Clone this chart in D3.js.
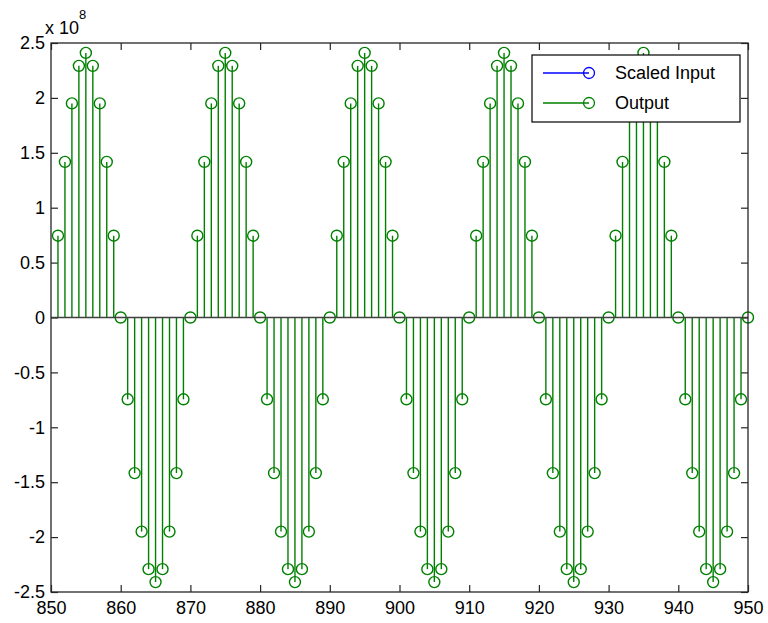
<!DOCTYPE html>
<html><head><meta charset="utf-8">
<script src="https://cdn.jsdelivr.net/npm/d3@7"></script>
<style>
body{margin:0;background:#fff;}
svg text{font-family:"Liberation Sans",Arial,sans-serif;}
</style></head>
<body><svg id="c" width="768" height="623"></svg>
<script>
// sample indices
const samples = d3.range(851, 951);
// Output values (x 1e8)
const outputValues = [
 0.745,1.417,1.950,2.292,2.410,2.292,1.950,1.417,0.745,0,
 -0.745,-1.417,-1.950,-2.292,-2.410,-2.292,-1.950,-1.417,-0.745,0,
 0.745,1.417,1.950,2.292,2.410,2.292,1.950,1.417,0.745,0,
 -0.745,-1.417,-1.950,-2.292,-2.410,-2.292,-1.950,-1.417,-0.745,0,
 0.745,1.417,1.950,2.292,2.410,2.292,1.950,1.417,0.745,0,
 -0.745,-1.417,-1.950,-2.292,-2.410,-2.292,-1.950,-1.417,-0.745,0,
 0.745,1.417,1.950,2.292,2.410,2.292,1.950,1.417,0.745,0,
 -0.745,-1.417,-1.950,-2.292,-2.410,-2.292,-1.950,-1.417,-0.745,0,
 0.745,1.417,1.950,2.292,2.410,2.292,1.950,1.417,0.745,0,
 -0.745,-1.417,-1.950,-2.292,-2.410,-2.292,-1.950,-1.417,-0.745,0
];
const xTicks = [850,860,870,880,890,900,910,920,930,940,950];
const yTicks = [2.5,2,1.5,1,0.5,0,-0.5,-1,-1.5,-2,-2.5];
const yTickLabels = ["2.5","2","1.5","1","0.5","0","-0.5","-1","-1.5","-2","-2.5"];
const seriesNames = ["Scaled Input","Output"];
const seriesColors = ["#0000ff","#008000"];

const L=51, T=43, W=697, H=549;
const svg = d3.select("#c");
const g = svg.append("g").attr("transform",`translate(${L},${T})`);
const x = d3.scaleLinear().domain([850,950]).range([0,W]);
const y = d3.scaleLinear().domain([-2.5,2.5]).range([H,0]);

const axColor="#262626";
function styleAxis(sel){
  sel.select(".domain").remove();
  sel.selectAll("line").attr("stroke",axColor).attr("stroke-width",1.2);
  sel.selectAll("text").attr("fill","#000").style("font-size","18px");
}
g.append("g").attr("transform",`translate(0,${H})`)
 .call(d3.axisBottom(x).tickValues(xTicks).tickSize(-7).tickPadding(9).tickFormat(d3.format("d")))
 .call(styleAxis);
g.append("g").call(d3.axisTop(x).tickValues(xTicks).tickSize(-7).tickFormat("")).call(styleAxis);
g.append("g")
 .call(d3.axisLeft(y).tickValues(yTicks).tickSize(-7).tickPadding(6).tickFormat((d,i)=>yTickLabels[i]))
 .call(styleAxis);
g.append("g").attr("transform",`translate(${W},0)`)
 .call(d3.axisRight(y).tickValues(yTicks).tickSize(-7).tickFormat("")).call(styleAxis);

// Output stems (the scaled input lies exactly beneath them and is not visible)
const s = g.append("g");
s.selectAll("line.stem").data(samples).join("line")
 .attr("x1",d=>x(d)).attr("x2",d=>x(d))
 .attr("y1",y(0)).attr("y2",(d,i)=>y(outputValues[i]))
 .attr("stroke",seriesColors[1]).attr("stroke-width",1.4);
s.selectAll("circle").data(samples).join("circle")
 .attr("cx",d=>x(d)).attr("cy",(d,i)=>y(outputValues[i])).attr("r",5.5)
 .attr("fill","none").attr("stroke",seriesColors[1]).attr("stroke-width",1.4);

// baseline
g.append("line").attr("x1",0).attr("x2",W).attr("y1",y(0)).attr("y2",y(0))
 .attr("stroke","#404040").attr("stroke-width",1.5);

// box
g.append("rect").attr("x",0).attr("y",0).attr("width",W).attr("height",H)
 .attr("fill","none").attr("stroke",axColor).attr("stroke-width",1.3);

// exponent label
const ex = svg.append("text").attr("x",45).attr("y",34).style("font-size","18px").attr("fill","#000");
ex.append("tspan").text("x 10");
ex.append("tspan").attr("dy",-15).style("font-size","13px").text("8");

// legend
const lg = svg.append("g");
lg.append("rect").attr("x",532).attr("y",55).attr("width",208).attr("height",67)
 .attr("fill","#fff").attr("stroke","#000").attr("stroke-width",1.2);
seriesNames.forEach((n,i)=>{
  const yy = 73 + i*30;
  lg.append("line").attr("x1",543).attr("x2",589).attr("y1",yy).attr("y2",yy)
    .attr("stroke",seriesColors[i]).attr("stroke-width",1.3);
  lg.append("circle").attr("cx",589).attr("cy",yy).attr("r",5.5)
    .attr("fill","none").attr("stroke",seriesColors[i]).attr("stroke-width",1.3);
  lg.append("text").attr("x",615).attr("y",yy+6).style("font-size","18px").attr("fill","#000").text(n);
});
</script></body></html>
